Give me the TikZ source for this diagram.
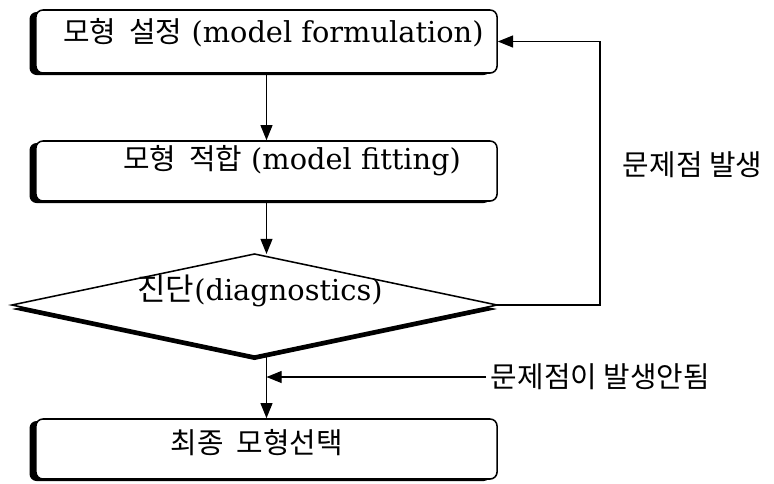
\documentclass[tikz,border=0pt]{standalone}
\usepackage{fontspec}
\setmainfont{DejaVu Serif}
\newfontfamily\kr{Noto Sans CJK KR}
\usetikzlibrary{arrows.meta,positioning,calc,shapes.geometric,shadows}

\newcommand\hangul[1]{{\kr\fontsize{20.5}{24}\selectfont #1}}

\begin{document}
\begin{tikzpicture}[
    x=0.025cm, y=-0.025cm,
    flow/.style={-{Triangle[length=3.8mm, width=3mm]}, line width=0.9pt},
    stepbox/.style={draw, line width=1.1pt, rounded corners=5pt, fill=white, minimum width=11.525cm,
        general shadow={fill=black, shadow xshift=-0.16cm, shadow yshift=-0.05cm}},
    checkbox/.style={diamond, draw, line width=1.1pt, fill=white, inner sep=0pt, outer sep=0pt,
        minimum width=12.125cm, minimum height=2.55cm,
        general shadow={fill=black, shadow yshift=-0.1cm}},
    boxtext/.style={font=\fontsize{20.5}{24}\selectfont, inner sep=0pt},
    note/.style={font=\kr\fontsize{20.5}{24}\selectfont}
]
\useasboundingbox (0,0) rectangle (774,483);

% boxes
\node[stepbox, minimum height=1.575cm] (formulation) at (266.5,41.5) {};
\node[stepbox, minimum height=1.5cm] (fitting) at (266.5,171) {};
\node[checkbox] (diag) at (254.5,305) {};
\node[stepbox, minimum height=1.5cm] (final) at (266.5,449) {};

% texts
\node[boxtext] (formulationText) at (273.5,33) {\hangul{모형\ \ 설정} (model formulation)};
\node[boxtext] (fittingText) at (292,161) {\hangul{모형\ \ 적합} (model fitting)};
\node[boxtext] (diagText) at (260,291) {{\kr\fontsize{22}{26}\selectfont 진단}(diagnostics)};
\node[boxtext] (finalText) at (257,443) {\hangul{최종\ \ 모형선택}};

% side notes
\node[note, anchor=west] (problem) at (618,165) {문제점\ 발생};
\node[note, anchor=west] (noproblem) at (486,377) {문제점이\ 발생안됨};

% connectors
\draw[flow] (formulation.south) -- (fitting.north);
\draw[flow] (fitting.south) -- (fitting.south |- diag.north);
\draw[flow] (final.north |- diag.south) -- (final.north);
\draw[flow] (diag.east) -- ++(103,0) |- (formulation.east);
\draw[flow] (noproblem.west) -- (noproblem.west -| final.north);

\end{tikzpicture}
\end{document}
